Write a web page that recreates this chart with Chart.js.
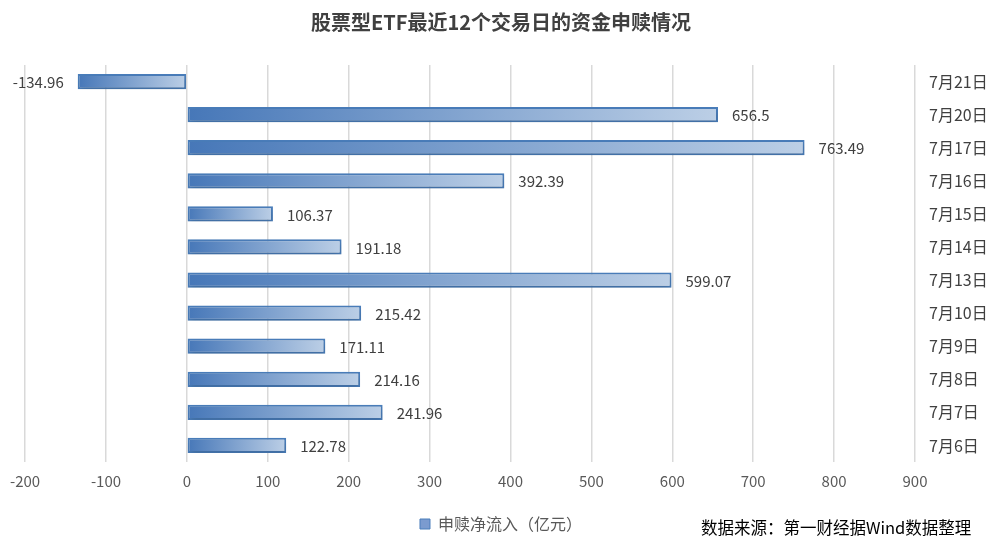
<!DOCTYPE html>
<html>
<head>
<meta charset="utf-8">
<script src="https://cdn.jsdelivr.net/npm/chart.js@4"></script>
<style>
  html, body { margin: 0; padding: 0; background: #fff; }
  #wrap { position: relative; width: 994px; height: 552px; }
  #source {
    position: absolute; left: 701px; top: 515px;
    font: 16.5px "Noto Sans CJK SC", sans-serif; color: #000;
  }
</style>
</head>
<body>
<div id="wrap">
  <canvas id="chart" width="994" height="552"></canvas>
  <div id="source">数据来源：第一财经据Wind数据整理</div>
</div>
<script>
// 交易日（从上到下）
const days = ['7月21日', '7月20日', '7月17日', '7月16日', '7月15日', '7月14日',
              '7月13日', '7月10日', '7月9日', '7月8日', '7月7日', '7月6日'];
// 申赎净流入（亿元）
const netFlow = [-134.96, 656.5, 763.49, 392.39, 106.37, 191.18,
                 599.07, 215.42, 171.11, 214.16, 241.96, 122.78];
const xTicks = [-200, -100, 0, 100, 200, 300, 400, 500, 600, 700, 800, 900];

const font = '"Noto Sans CJK SC", "Noto Sans", sans-serif';

function barGradient(context) {
    const chart = context.chart;
    const x = chart.scales.x;
    if (!chart.chartArea || !x) return '#6a8fc7';
    const v = context.raw;
    const a = x.getPixelForValue(0), b = x.getPixelForValue(v);
    const left = Math.min(a, b), right = Math.max(a, b);
    if (right - left < 1) return '#4a7cba';
    const g = chart.ctx.createLinearGradient(left, 0, right, 0);
    g.addColorStop(0, '#4677b8');
    g.addColorStop(1, '#bccfe6');
    return g;
}

// 数值标签
const valueLabels = {
    id: 'valueLabels',
    afterDatasetsDraw(chart) {
        const ctx = chart.ctx;
        const meta = chart.getDatasetMeta(0);
        ctx.save();
        ctx.font = '15px ' + font;
        ctx.fillStyle = '#404040';
        ctx.textBaseline = 'middle';
        meta.data.forEach((bar, i) => {
            const v = netFlow[i];
            if (v >= 0) {
                ctx.textAlign = 'left';
                ctx.fillText(String(v), bar.x + 14, bar.y + 1);
            } else {
                ctx.textAlign = 'right';
                ctx.fillText(String(v), bar.x - 14, bar.y + 1);
            }
        });
        ctx.restore();
    }
};

// 柱子阴影
const barShadow = {
    id: 'barShadow',
    beforeDatasetsDraw(chart) {
        const ctx = chart.ctx;
        ctx.save();
        ctx.shadowColor = 'rgba(0,0,0,0.16)';
        ctx.shadowBlur = 6;
        ctx.shadowOffsetY = 3;
        ctx.shadowOffsetX = 1;
    },
    afterDatasetsDraw(chart) {
        chart.ctx.restore();
    }
};

new Chart(document.getElementById('chart'), {
    type: 'bar',
    data: {
        labels: days,
        datasets: [{
            label: '申赎净流入（亿元）',
            data: netFlow,
            backgroundColor: barGradient,
            borderColor: '#4a7ebb',
            borderWidth: 2,
            borderSkipped: false,
            barPercentage: 0.92,
            categoryPercentage: 0.5
        }]
    },
    options: {
        indexAxis: 'y',
        responsive: false,
        animation: false,
        layout: { padding: { left: 8, right: 0, top: 0, bottom: 10 } },
        scales: {
            x: {
                min: -200,
                max: 900,
                afterBuildTicks: axis => { axis.ticks = xTicks.map(v => ({ value: v })); },
                grid: { color: '#d9d9d9', lineWidth: 1.5, drawTicks: false },
                border: { display: false },
                ticks: { color: '#595959', font: { family: font, size: 15 }, padding: 10 }
            },
            y: {
                position: 'right',
                grid: { display: false },
                border: { display: false },
                ticks: { color: '#404040', font: { family: font, size: 16 }, padding: 6 },
                afterFit: axis => { axis.width = 79; }
            }
        },
        plugins: {
            title: {
                display: true,
                text: '股票型ETF最近12个交易日的资金申赎情况',
                color: '#404040',
                font: { family: font, size: 20, weight: 'bold' },
                padding: { top: 10, bottom: 31 }
            },
            legend: {
                position: 'bottom',
                labels: {
                    color: '#595959',
                    font: { family: font, size: 16 },
                    boxWidth: 10,
                    boxHeight: 10,
                    padding: 16,
                    generateLabels: () => [{
                        text: '申赎净流入（亿元）',
                        fillStyle: '#7b9bcf',
                        strokeStyle: '#4a7ebb',
                        lineWidth: 1,
                        fontColor: '#595959',
                        datasetIndex: 0
                    }]
                }
            },
            tooltip: { enabled: false }
        }
    },
    plugins: [barShadow, valueLabels]
});
</script>
</body>
</html>
